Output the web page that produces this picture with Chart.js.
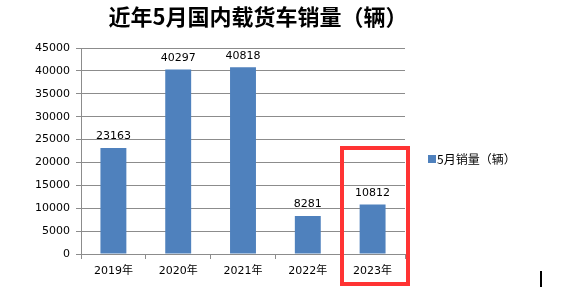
<!DOCTYPE html>
<html>
<head>
<meta charset="utf-8">
<script src="https://cdn.jsdelivr.net/npm/chart.js@4/dist/chart.umd.min.js"></script>
<style>
  html, body { margin: 0; padding: 0; background: #fff; }
  #wrap { width: 565px; height: 291px; position: relative; }
</style>
</head>
<body>
<div id="wrap"><canvas id="salesChart"></canvas></div>
<script>
// --- chart data ---
const years = ['2019年', '2020年', '2021年', '2022年', '2023年'];
const sales = [23163, 40297, 40818, 8281, 10812];
const seriesName = '5月销量（辆）';
const chartTitle = '近年5月国内载货车销量（辆）';

const barColor = '#4F81BD';
const gridColor = '#8c8c8c';
const fontFamily = "'DejaVu Sans', 'Noto Sans CJK SC', sans-serif";

// title, value labels, legend and the red highlight box
const decorations = {
    id: 'decorations',
    afterDatasetsDraw(chart) {
        const ctx = chart.ctx;
        ctx.save();

        // title
        ctx.fillStyle = '#000';
        ctx.font = "bold 22px 'Noto Sans CJK SC', sans-serif";
        ctx.textAlign = 'center';
        ctx.textBaseline = 'middle';
        ctx.fillText(chartTitle, 258, 17);

        // values above bars
        ctx.font = '11px ' + fontFamily;
        ctx.textBaseline = 'bottom';
        chart.getDatasetMeta(0).data.forEach((bar, i) => {
            ctx.fillText(String(sales[i]), bar.x, bar.y - 6);
        });

        // legend
        ctx.fillStyle = barColor;
        ctx.fillRect(428, 155, 8, 8);
        ctx.fillStyle = '#000';
        ctx.textAlign = 'left';
        ctx.textBaseline = 'middle';
        ctx.font = "12px 'Noto Sans CJK SC', sans-serif";
        ctx.fillText(seriesName, 437, 159);

        // red highlight box around the last category
        ctx.strokeStyle = '#FF3333';
        ctx.lineWidth = 4;
        ctx.strokeRect(342, 148, 66, 136);

        // small cursor mark
        ctx.fillStyle = '#000';
        ctx.fillRect(540, 271, 2, 16);
        ctx.restore();
    }
};

new Chart(document.getElementById('salesChart'), {
    type: 'bar',
    data: {
        labels: years,
        datasets: [{
            label: seriesName,
            data: sales,
            backgroundColor: barColor,
            categoryPercentage: 1,
            barPercentage: 0.4
        }]
    },
    options: {
        responsive: true,
        maintainAspectRatio: false,
        animation: false,
        layout: { padding: { top: 48, right: 160, left: 0, bottom: 0 } },
        plugins: {
            legend: { display: false },
            title: { display: false },
            tooltip: { enabled: false }
        },
        scales: {
            x: {
                afterFit: (s) => { s.height = 37; },
                grid: { display: true, drawOnChartArea: false, drawTicks: true, tickLength: 5, color: gridColor, offset: true },
                border: { display: false },
                ticks: { color: '#000', font: { size: 11, family: fontFamily }, padding: 6 }
            },
            y: {
                min: 0,
                max: 45000,
                afterFit: (s) => { s.width = 81; },
                grid: { color: gridColor, tickLength: 5, drawTicks: true },
                border: { display: true, color: gridColor },
                ticks: {
                    stepSize: 5000, color: '#000', font: { size: 11, family: fontFamily }, padding: 6,
                    callback: (v) => String(v)
                }
            }
        }
    },
    plugins: [decorations]
});
</script>
</body>
</html>
